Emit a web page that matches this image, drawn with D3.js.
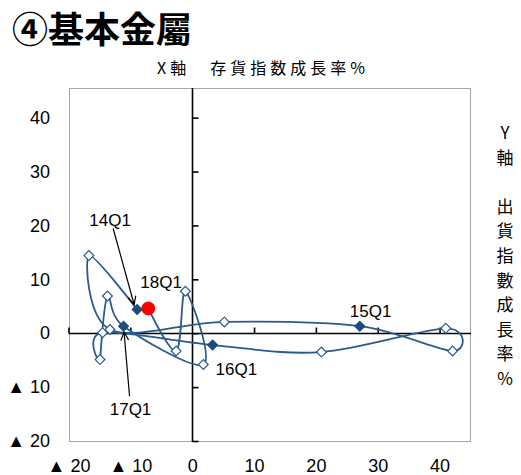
<!DOCTYPE html>
<html>
<head>
<meta charset="utf-8">
<script src="https://cdn.jsdelivr.net/npm/d3@7"></script>
<style>
  body { margin: 0; background: #fff; }
  svg { display: block; }
</style>
</head>
<body>
<svg id="chart"></svg>
<script>
// quarters 14Q1 .. 18Q1
let quarters = ["14Q1", "14Q2", "14Q3", "14Q4", "15Q1", "15Q2", "15Q3", "15Q4",
                "16Q1", "16Q2", "16Q3", "16Q4", "17Q1", "17Q2", "17Q3", "17Q4", "18Q1"];
// X: inventory index growth %, Y: shipment index growth %
let stockGrowth = [-8.9, -16.7, -13.3, 5.2, 27.1, 42.1, 41.0, 20.9,
                   3.3, -14.5, -14.9, -13.7, -11.1, 1.8, -1.1, -2.6, -7.1];
let shipGrowth = [4.4, 14.4, 0.7, 2.1, 1.3, -3.3, 0.9, -3.5,
                  -2.2, 0.1, -4.9, 6.9, 1.3, -5.8, 7.8, -3.3, 4.6];
let tickValues = [-20, -10, 0, 10, 20, 30, 40];
let labelledQuarters = ["14Q1", "15Q1", "16Q1", "17Q1", "18Q1"];

function getConfig() {
  let width = 521;
  let height = 475;
  let plot = { left: 69, right: 470, top: 88, bottom: 441 };
  let container = d3.select("#chart")
    .attr("width", width)
    .attr("height", height);
  return { width, height, plot, container };
}

function getScales(config) {
  let { plot } = config;
  let xScale = d3.scaleLinear().domain([-20, 45]).range([plot.left - 0.5, plot.right + 0.5]);
  let yScale = d3.scaleLinear().domain([-20, 45.5]).range([plot.bottom, plot.top]);
  return { xScale, yScale };
}

let fmt = d => d < 0 ? "▲ " + Math.abs(d) : String(d);
let numFont = "'Liberation Sans', Arial, sans-serif";
let cjkFont = "'Noto Sans CJK JP', 'Noto Sans CJK TC', sans-serif";

function drawFrame(scales, config) {
  let { container, plot } = config;
  let { xScale, yScale } = scales;

  container.append("rect")
    .attr("x", plot.left + 0.5).attr("y", plot.top + 0.5)
    .attr("width", plot.right - plot.left).attr("height", plot.bottom - plot.top)
    .attr("fill", "none").attr("stroke", "#a6a6a6").attr("stroke-width", 1);

  // tick labels on the plot edges
  let gYLab = container.append("g")
    .attr("transform", `translate(${plot.left},0)`)
    .call(d3.axisLeft(yScale).tickValues(tickValues).tickSize(0).tickPadding(19).tickFormat(fmt));
  let gXLab = container.append("g")
    .attr("transform", `translate(0,${plot.bottom})`)
    .call(d3.axisBottom(xScale).tickValues(tickValues).tickSize(0).tickPadding(18).tickFormat(fmt));
  [gYLab, gXLab].forEach(g => {
    g.select(".domain").remove();
    g.selectAll("text").attr("font-family", numFont).attr("font-size", 18).attr("fill", "#000");
  });

  // zero lines with ticks
  let gX0 = container.append("g")
    .attr("transform", `translate(0,${Math.round(yScale(0)) + 0.5})`)
    .call(d3.axisTop(xScale).tickValues(tickValues.filter(d => d != 0)).tickSize(6).tickFormat(""));
  gX0.select(".domain").attr("d", `M${plot.left},0H${plot.right + 1}`);
  let gY0 = container.append("g")
    .attr("transform", `translate(${Math.round(xScale(0)) + 0.5},0)`)
    .call(d3.axisRight(yScale).tickValues(tickValues).tickSize(6).tickFormat(""));
  gY0.select(".domain").attr("d", `M0,${plot.top}V${plot.bottom + 1}`);
  [gX0, gY0].forEach(g => {
    g.selectAll("path, line").attr("stroke", "#000").attr("stroke-width", 1.6);
  });
}

function drawSeries(scales, config) {
  let { container } = config;
  let { xScale, yScale } = scales;
  let pts = quarters.map((q, i) => ({ q, x: stockGrowth[i], y: shipGrowth[i] }));

  let line = d3.line()
    .x(d => xScale(d.x))
    .y(d => yScale(d.y))
    .curve(d3.curveCatmullRom.alpha(0));

  container.append("path")
    .datum(pts)
    .attr("d", line)
    .attr("fill", "none")
    .attr("stroke", "#2b5a8e")
    .attr("stroke-width", 1.8);

  let diamond = d3.symbol(d3.symbolSquare, 48);
  container.selectAll(".pt")
    .data(pts.slice(0, -1))
    .enter()
    .append("path")
    .attr("class", "pt")
    .attr("d", diamond)
    .attr("transform", d => `translate(${xScale(d.x)},${yScale(d.y)}) rotate(45)`)
    .attr("fill", d => labelledQuarters.includes(d.q) ? "#1f4a7e" : "#fff")
    .attr("stroke", d => labelledQuarters.includes(d.q) ? "#1f4a7e" : "#2b5a8e")
    .attr("stroke-width", 1.2);

  let last = pts[pts.length - 1];
  container.append("circle")
    .attr("cx", xScale(last.x))
    .attr("cy", yScale(last.y))
    .attr("r", 6.5)
    .attr("fill", "#ff0000")
    .attr("stroke", "#d00000")
    .attr("stroke-width", 0.8);

  return pts;
}

function arrow(container, x1, y1, x2, y2) {
  let ang = Math.atan2(y2 - y1, x2 - x1);
  let len = 9, spread = 0.45;
  container.append("line")
    .attr("x1", x1).attr("y1", y1).attr("x2", x2).attr("y2", y2)
    .attr("stroke", "#000").attr("stroke-width", 1.2);
  container.append("path")
    .attr("d", `M${x2 - len * Math.cos(ang - spread)},${y2 - len * Math.sin(ang - spread)}L${x2},${y2}L${x2 - len * Math.cos(ang + spread)},${y2 - len * Math.sin(ang + spread)}`)
    .attr("fill", "none").attr("stroke", "#000").attr("stroke-width", 1.2);
}

function drawLabels(pts, scales, config) {
  let { container } = config;
  let { xScale, yScale } = scales;
  let byQ = {};
  pts.forEach(p => byQ[p.q] = { x: xScale(p.x), y: yScale(p.y) });

  let label = (t, x, y, anchor) => container.append("text")
    .attr("x", x).attr("y", y).attr("text-anchor", anchor || "start")
    .attr("font-family", numFont).attr("font-size", 17).attr("fill", "#000")
    .text(t);

  label("14Q1", byQ["14Q1"].x - 27, byQ["14Q1"].y - 84, "middle");
  arrow(container, byQ["14Q1"].x - 24, byQ["14Q1"].y - 81, byQ["14Q1"].x - 3, byQ["14Q1"].y - 5);
  label("18Q1", byQ["18Q1"].x - 8, byQ["18Q1"].y - 20);
  label("15Q1", byQ["15Q1"].x - 10, byQ["15Q1"].y - 9);
  label("16Q1", byQ["16Q1"].x + 3, byQ["16Q1"].y + 30);
  label("17Q1", byQ["17Q1"].x + 7, byQ["17Q1"].y + 89, "middle");
  arrow(container, byQ["17Q1"].x + 6, byQ["17Q1"].y + 70, byQ["17Q1"].x + 0.5, byQ["17Q1"].y + 6);
}

function drawTitles(config) {
  let { container } = config;
  container.append("text")
    .attr("x", 12).attr("y", 43)
    .attr("font-family", cjkFont).attr("font-size", 36).attr("font-weight", "bold")
    .text("④基本金屬");

  container.append("text")
    .attr("x", 263).attr("y", 74).attr("text-anchor", "middle")
    .attr("font-family", cjkFont).attr("font-size", 16).attr("letter-spacing", 4)
    .text("X軸　存貨指数成長率%");

  let yTitle = ["Y", "軸", "", "出", "貨", "指", "數", "成", "長", "率", "%"];
  container.append("g").selectAll("text")
    .data(yTitle)
    .enter()
    .append("text")
    .attr("x", 505)
    .attr("y", (d, i) => 139 + i * 24.6)
    .attr("text-anchor", "middle")
    .attr("font-family", cjkFont).attr("font-size", 17)
    .text(d => d);
}

function showChart() {
  let config = getConfig();
  let scales = getScales(config);
  drawFrame(scales, config);
  let pts = drawSeries(scales, config);
  drawLabels(pts, scales, config);
  drawTitles(config);
}

showChart();
</script>
</body>
</html>
